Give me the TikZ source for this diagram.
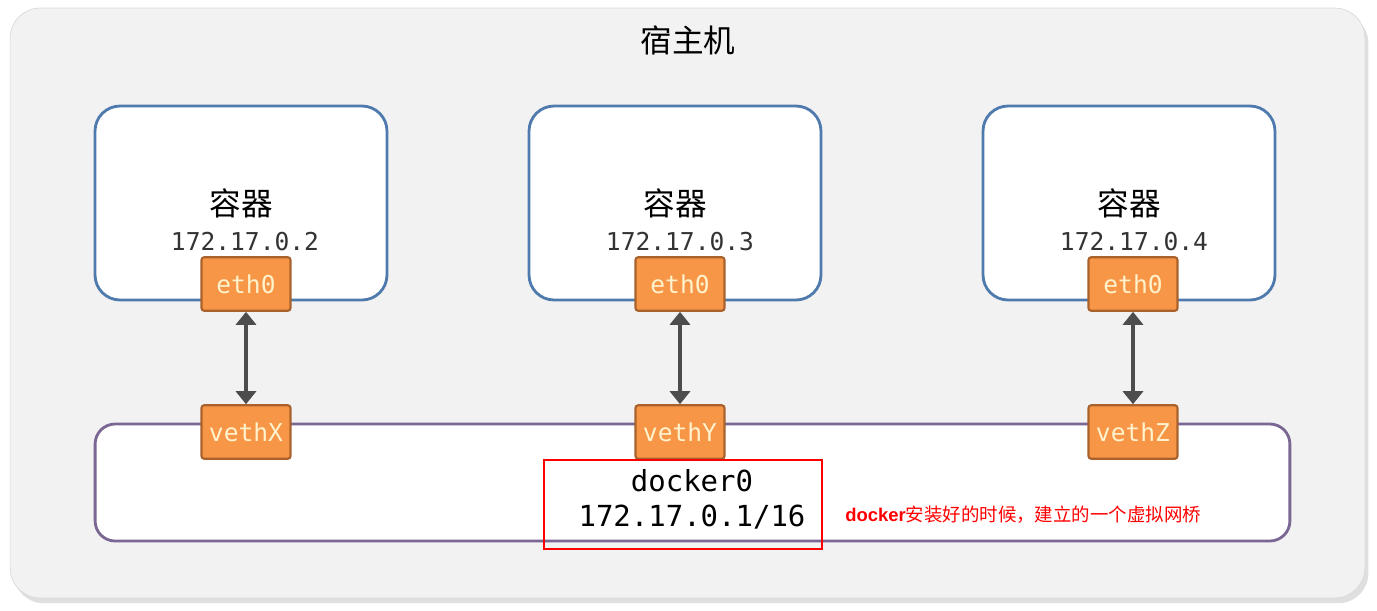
\documentclass[tikz,border=0pt]{standalone}
\usepackage{fontspec}
\setmainfont{Liberation Sans}
\setmonofont{DejaVu Sans Mono}
\newfontfamily\cjk{Noto Sans CJK SC}
\usetikzlibrary{positioning,arrows.meta,shadows}
\definecolor{hostgray}{HTML}{F2F2F2}
\definecolor{hostline}{HTML}{DADADA}
\definecolor{boxblue}{HTML}{4F7AAE}
\definecolor{ifaceorange}{HTML}{F79646}
\definecolor{ifaceline}{HTML}{A9622C}
\definecolor{ifacetext}{HTML}{FFF2CC}
\definecolor{bridgepurple}{HTML}{7A6794}
\definecolor{linkgray}{HTML}{4D4D4D}
\tikzset{
  linkarrow/.style={{Triangle[width=4mm,length=2.6mm]}-{Triangle[width=4mm,length=2.6mm]}, line width=2.1pt, draw=linkgray},
  hostbox/.style={draw=hostline, fill=hostgray, rounded corners=0.6cm, minimum width=27.1cm, minimum height=11.8cm,
    drop shadow={shadow xshift=2pt, shadow yshift=-3pt, opacity=0.25}},
  ctbox/.style={draw=boxblue, line width=1.6pt, fill=white, rounded corners=0.5cm, minimum width=5.84cm, minimum height=3.88cm},
  bridgebox/.style={draw=bridgepurple, line width=1.6pt, fill=white, rounded corners=0.4cm, minimum width=23.9cm, minimum height=2.34cm},
  ifbox/.style={draw=ifaceline, line width=1.2pt, fill=ifaceorange, rounded corners=1.5pt, minimum width=1.78cm, minimum height=1.07cm,
    text=ifacetext, font=\ttfamily\fontsize{14pt}{16pt}\selectfont},
  markbox/.style={draw=red, line width=1.1pt, minimum width=5.56cm, minimum height=1.78cm},
  cttitle/.style={font=\cjk\fontsize{18pt}{20pt}\selectfont},
  iplabel/.style={font=\ttfamily\fontsize{14pt}{16pt}\selectfont, text=black!80},
  note/.style={font=\fontsize{10.5pt}{12pt}\selectfont, text=red, anchor=west, inner sep=0pt}
}
\begin{document}
\begin{tikzpicture}[x=0.02cm, y=-0.02cm]
  \useasboundingbox (0,0) rectangle (1377,610);
  \node[hostbox] (host) at (687.5,303) {};
  \node[cttitle] (hosttitle) at (688,40) {宿主机};

  % containers
  \node[ctbox] (ct1) at (241,203) {};
  \node[ctbox] (ct2) at (675,203) {};
  \node[ctbox] (ct3) at (1129,203) {};
  \node[cttitle] (ctname1) at (241,203) {容器};
  \node[cttitle] (ctname2) at (675,203) {容器};
  \node[cttitle] (ctname3) at (1129,203) {容器};
  \node[iplabel] (ip1) at (245,242) {172.17.0.2};
  \node[iplabel] (ip2) at (680,242) {172.17.0.3};
  \node[iplabel] (ip3) at (1134,242) {172.17.0.4};

  % bridge
  \node[bridgebox] (br) at (692.5,482.5) {};

  \node[ifbox] (eth1) at (246,284) {eth0};
  \node[ifbox] (eth2) at (680,284) {eth0};
  \node[ifbox] (eth3) at (1133,284) {eth0};
  \node[ifbox] (veth1) at (246,432) {vethX};
  \node[ifbox] (veth2) at (680,432) {vethY};
  \node[ifbox] (veth3) at (1133,432) {vethZ};
  \draw[linkarrow] (eth1) -- (veth1);
  \draw[linkarrow] (eth2) -- (veth2);
  \draw[linkarrow] (eth3) -- (veth3);

  \node[markbox] (mark) at (683,504.5) {};
  \node[align=center, font=\ttfamily\fontsize{16.5pt}{20pt}\selectfont] (dk) at (692,499) {docker0\\172.17.0.1/16};
  \node[note] (dknote) at (845,515) {\textbf{docker}\cjk 安装好的时候，建立的一个虚拟网桥};
\end{tikzpicture}
\end{document}
